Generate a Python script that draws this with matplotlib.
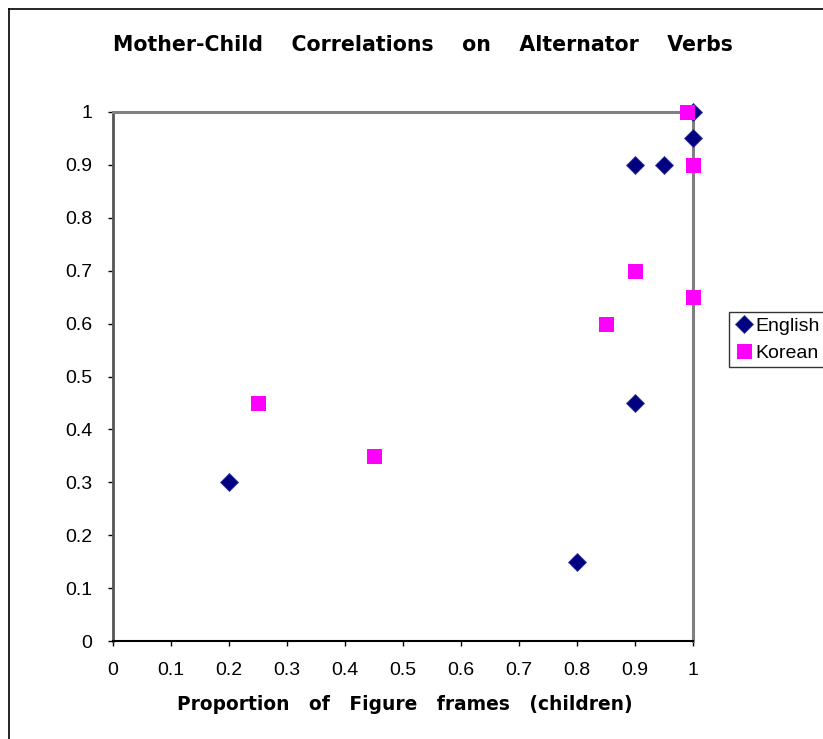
import matplotlib
matplotlib.use('Agg')
from matplotlib import pyplot as plt
from matplotlib.lines import Line2D

plt.rcParams['font.family'] = ['Liberation Sans', 'DejaVu Sans']

# English series
english_x = [0.2, 0.8, 0.9, 0.9, 0.95, 1.0, 1.0]
english_y = [0.3, 0.15, 0.45, 0.9, 0.9, 0.95, 1.0]

# Korean series
korean_x = [0.25, 0.45, 0.85, 0.9, 1.0, 1.0, 0.99]
korean_y = [0.45, 0.35, 0.6, 0.7, 0.65, 0.9, 1.0]

ticks = [0, 0.1, 0.2, 0.3, 0.4, 0.5, 0.6, 0.7, 0.8, 0.9, 1]
tick_labels = ['0', '0.1', '0.2', '0.3', '0.4', '0.5', '0.6', '0.7', '0.8', '0.9', '1']

W, H = 823, 739
fig = plt.figure(figsize=(W / 100, H / 100), dpi=100)
ax = fig.add_axes([113 / W, 1 - 641 / H, 580 / W, 529 / H])

ax.plot(english_x, english_y, 'D', color='#000080', markeredgecolor='#3a3aa0',
        markeredgewidth=0.6, markersize=8.7, label='English', clip_on=False, zorder=3)
ax.plot(korean_x, korean_y, 's', color='#ff00ff', markeredgecolor='#ff00ff',
        markeredgewidth=0, markersize=10.8, label='Korean', clip_on=False, zorder=4)

ax.set_xlim(0, 1)
ax.set_ylim(0, 1)
ax.set_xticks(ticks)
ax.set_xticklabels(tick_labels)
ax.set_yticks(ticks)
ax.set_yticklabels(tick_labels)
ax.tick_params(axis='both', direction='out', length=3.6, width=1, labelsize=14,
               color='black', pad=11.5)

for side in ['top', 'right']:
    ax.spines[side].set_color('#808080')
    ax.spines[side].set_linewidth(2.2)
ax.spines['left'].set_color('#555555')
ax.spines['left'].set_linewidth(2)
ax.spines['bottom'].set_color('black')
ax.spines['bottom'].set_linewidth(1.5)

fig.text(423 / W, 1 - 45 / H,
         'Mother-Child    Correlations    on    Alternator    Verbs',
         ha='center', va='center', fontsize=14.8, fontweight='bold',
         family='DejaVu Sans')
fig.text(405 / W, 1 - 704 / H,
         'Proportion   of   Figure   frames   (children)',
         ha='center', va='center', fontsize=13.4, fontweight='bold',
         family='DejaVu Sans')

leg = ax.legend(loc='center left', bbox_to_anchor=(729 / W, 1 - 339.5 / H),
                bbox_transform=fig.transFigure, frameon=True, fancybox=False,
                edgecolor='black', fontsize=14, handletextpad=0.1,
                handlelength=1.0, borderpad=0.25, labelspacing=0.5,
                borderaxespad=0)
leg.get_frame().set_linewidth(1)

# outer chart border (left and top visible)
fig.add_artist(Line2D([9 / W, 9 / W], [0, 1 - 9 / H], color='black', linewidth=1.2,
                      transform=fig.transFigure))
fig.add_artist(Line2D([9 / W, 1], [1 - 9 / H, 1 - 9 / H], color='black', linewidth=1.2,
                      transform=fig.transFigure))

fig.savefig('out.png', dpi=100)
